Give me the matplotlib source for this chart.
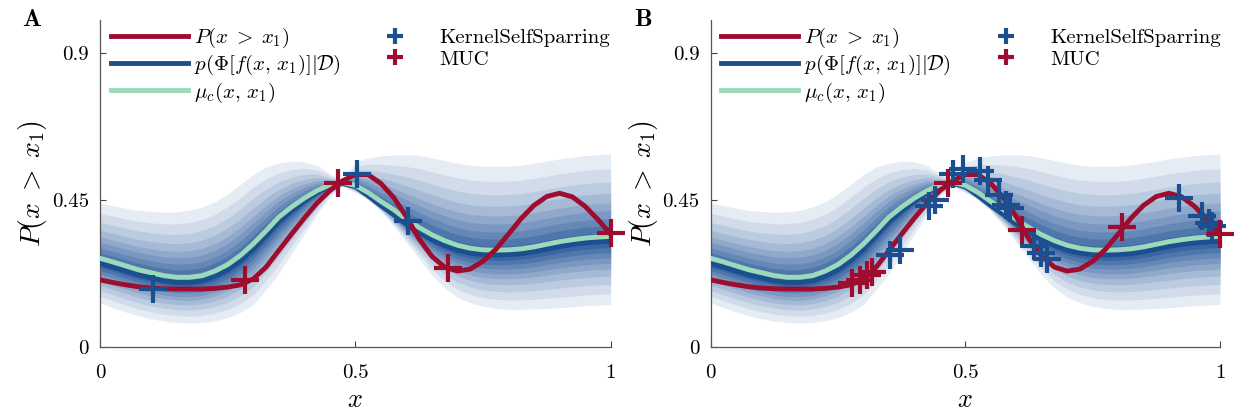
import numpy as np
import matplotlib.pyplot as plt
from matplotlib.colors import to_rgb

plt.rcParams['font.family'] = 'serif'
plt.rcParams['font.serif'] = ['cmr10', 'DejaVu Serif']
plt.rcParams['mathtext.fontset'] = 'cm'
plt.rcParams['axes.formatter.use_mathtext'] = True
plt.rcParams['axes.unicode_minus'] = False

x_grid = np.linspace(0, 1, 41)
p_true = [.205, .197, .19, .184, .18, .178, .177, .177, .177, .179, .183, .19, .208, .244,
          .295, .345, .394, .44, .478, .508, .527, .527, .50, .457, .398, .33, .277, .244,
          .232, .238, .262, .298, .345, .393, .433, .46, .47, .459, .43, .39, .345]
mu_c = [.271, .26, .248, .236, .227, .218, .213, .213, .218, .232, .252, .28, .315, .355,
        .397, .428, .455, .478, .496, .503, .494, .472, .445, .42, .39, .365, .343, .325,
        .311, .302, .297, .296, .297, .3, .306, .314, .322, .328, .333, .336, .338]
post_med = [.255, .244, .232, .22, .211, .202, .197, .197, .202, .216, .236, .264, .299, .34,
            .383, .416, .446, .472, .492, .5, .49, .462, .432, .405, .375, .35, .328, .31,
            .296, .287, .282, .281, .282, .285, .291, .299, .307, .313, .318, .321, .323]
post_hi = [.44, .432, .424, .418, .414, .412, .413, .418, .428, .444, .468, .497, .527, .55,
           .562, .568, .566, .555, .53, .508, .565, .578, .584, .587, .588, .585, .578, .57,
           .562, .556, .553, .552, .553, .556, .562, .568, .575, .58, .585, .588, .59]
post_lo = [.135, .12, .107, .095, .086, .079, .075, .073, .075, .08, .09, .106, .13, .175,
           .225, .285, .345, .405, .46, .492, .472, .45, .415, .37, .32, .27, .22, .18,
           .152, .135, .124, .118, .115, .115, .116, .118, .12, .123, .126, .128, .13]
band_levels = [1.0, 0.83, 0.68, 0.55, 0.44, 0.35, 0.26, 0.18, 0.1]

# queried points
kss_a_x = [0.104, 0.503, 0.604]
kss_a_y = [0.178, 0.53, 0.384]
muc_a_x = [0.284, 0.466, 0.681, 1.0]
muc_a_y = [0.204, 0.50, 0.242, 0.347]

kss_b_x = [0.352, 0.372, 0.428, 0.44, 0.476, 0.495, 0.528, 0.545, 0.567, 0.58, 0.587,
           0.635, 0.648, 0.66, 0.92, 0.965, 0.978, 0.985]
kss_b_y = [0.28, 0.297, 0.43, 0.45, 0.53, 0.545, 0.537, 0.51, 0.465, 0.435, 0.425,
           0.31, 0.288, 0.27, 0.456, 0.40, 0.38, 0.37]
muc_b_x = [0.277, 0.294, 0.307, 0.316, 0.466, 0.612, 0.808, 1.0]
muc_b_y = [0.196, 0.205, 0.22, 0.23, 0.50, 0.358, 0.366, 0.345]

red = '#9e0c2e'
blue = '#1b4f8f'
green = '#9bdabb'
light = np.array(to_rgb('#e6ecf4'))
dark = np.array(to_rgb('#3a66a2'))

fig = plt.figure(figsize=(12.36, 4.15), dpi=100)
ax_a = fig.add_axes([0.081, 0.164, 0.413, 0.788])
ax_b = fig.add_axes([0.575, 0.164, 0.412, 0.788])

med = np.array(post_med)
hi = np.array(post_hi)
lo = np.array(post_lo)


def draw_panel(ax, kx, ky, mx, my, letter):
    n = len(band_levels)
    for i, f in enumerate(band_levels):
        c = light + (dark - light) * i / (n - 1)
        ax.fill_between(x_grid, med - f * (med - lo), med + f * (hi - med),
                        color=c, lw=0, zorder=1)
    ax.plot(x_grid, post_med, color=blue, lw=3.5, zorder=3,
            label=r'$p(\Phi[f(x,\,x_1)]|\mathcal{D})$')
    ax.plot(x_grid, mu_c, color=green, lw=3.5, zorder=4, label=r'$\mu_c(x,\,x_1)$')
    ax.plot(x_grid, p_true, color=red, lw=3.5, zorder=5, label=r'$P(x\;>\;x_1)$')
    ax.plot(kx, ky, '+', color=blue, ms=20, mew=3, clip_on=False, zorder=6,
            label='KernelSelfSparring')
    ax.plot(mx, my, '+', color=red, ms=20, mew=3, clip_on=False, zorder=7, label='MUC')

    ax.set_xlim(0, 1)
    ax.set_ylim(0, 1)
    ax.set_xticks([0, 0.5, 1])
    ax.set_xticklabels(['0', '0.5', '1'])
    ax.set_yticks([0, 0.45, 0.9])
    ax.set_yticklabels(['0', '0.45', '0.9'])
    ax.tick_params(direction='in', length=4, width=0.8, labelsize=15, color='#444444')
    ax.tick_params(axis='x', pad=12)
    ax.tick_params(axis='y', pad=8)
    for s in ['top', 'right']:
        ax.spines[s].set_visible(False)
    for s in ['left', 'bottom']:
        ax.spines[s].set_color('#555555')
        ax.spines[s].set_linewidth(0.9)
    ax.set_xlabel(r'$x$', fontsize=19, labelpad=5)
    ax.set_ylabel(r'$P(x\;>\;x_1)$', fontsize=20, labelpad=2)

    h, l = ax.get_legend_handles_labels()
    order = [2, 0, 1, 3, 4]
    ax.legend([h[i] for i in order], [l[i] for i in order], ncol=2, loc='upper left',
              bbox_to_anchor=(-0.004, 1.02), frameon=False, fontsize=15,
              handlelength=3.7, handletextpad=0.3, columnspacing=0.75,
              labelspacing=0.15, markerscale=0.6, borderaxespad=0.2)
    ax.text(-0.133, 1.0, r'$\mathbf{' + letter + '}$', transform=ax.transAxes,
            fontsize=18, ha='center', va='center')


draw_panel(ax_a, kss_a_x, kss_a_y, muc_a_x, muc_a_y, 'A')
draw_panel(ax_b, kss_b_x, kss_b_y, muc_b_x, muc_b_y, 'B')

fig.savefig('out.png', dpi=100)
